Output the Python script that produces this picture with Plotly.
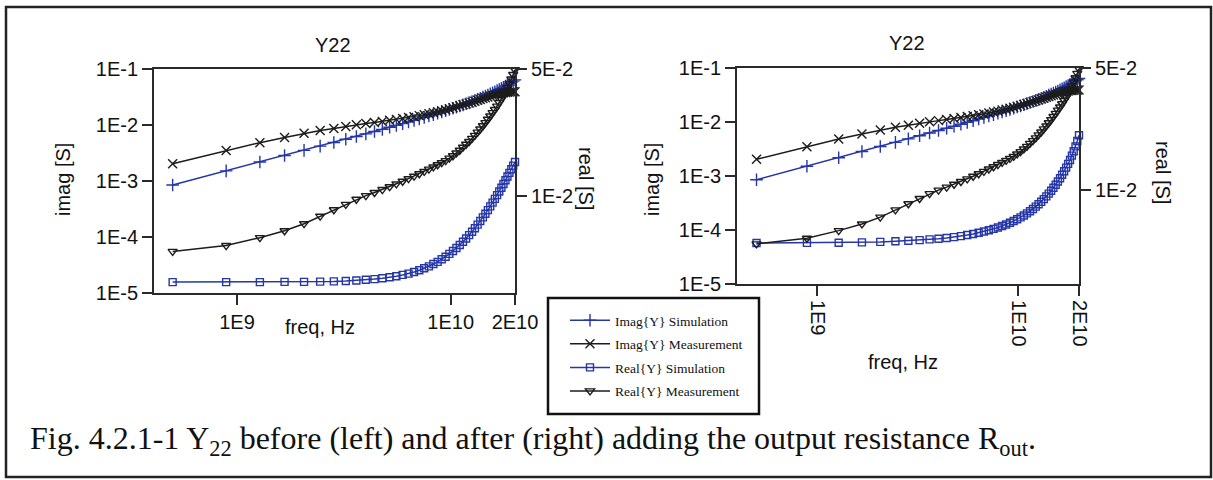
import math
import plotly.graph_objects as go

W, H = 1213, 480

# Frequency sweep, GHz
freq_ghz = [0.50, 0.89, 1.28, 1.67, 2.06, 2.45, 2.84, 3.23, 3.62, 4.01,
            4.40, 4.79, 5.18, 5.57, 5.96, 6.35, 6.74, 7.13, 7.52, 7.91,
            8.30, 8.69, 9.08, 9.47, 9.86, 10.25, 10.64, 11.03, 11.42, 11.81,
            12.20, 12.59, 12.98, 13.37, 13.76, 14.15, 14.54, 14.93, 15.32, 15.71,
            16.10, 16.49, 16.88, 17.27, 17.66, 18.05, 18.44, 18.83, 19.22, 19.61,
            20.00]

# Imag{Y22}, mS
imag_sim_ms = [0.850, 1.514, 2.180, 2.848, 3.520, 4.194, 4.874, 5.559, 6.250, 6.948,
               7.654, 8.368, 9.092, 9.827, 10.57, 11.33, 12.10, 12.89, 13.69, 14.51,
               15.35, 16.21, 17.09, 17.99, 18.92, 19.87, 20.86, 21.87, 22.92, 24.00,
               25.13, 26.29, 27.50, 28.76, 30.07, 31.44, 32.87, 34.37, 35.94, 37.59,
               39.33, 41.16, 43.10, 45.16, 47.34, 49.66, 52.14, 54.80, 57.65, 60.73,
               64.05]
imag_meas_ms = [2.04, 3.49, 4.84, 6.00, 7.10, 7.97, 8.68, 9.44, 10.1, 10.6,
                11.1, 11.6, 12.1, 12.6, 13.1, 13.6, 14.1, 14.7, 15.3, 15.9,
                16.6, 17.3, 18.0, 18.7, 19.5, 20.3, 21.1, 22.0, 22.9, 23.8,
                24.7, 25.6, 26.6, 27.6, 28.6, 29.6, 30.6, 31.6, 32.6, 33.6,
                34.6, 35.5, 36.3, 37.0, 37.6, 38.1, 38.5, 38.8, 39.0, 39.1,
                39.2]

# Real{Y22}, mS
real_meas_ms = [4.92, 5.30, 5.86, 6.40, 7.00, 7.70, 8.35, 8.95, 9.55, 10.0,
                10.4, 10.8, 11.2, 11.6, 12.0, 12.4, 12.8, 13.2, 13.6, 14.0,
                14.4, 14.8, 15.2, 15.6, 16.1, 16.6, 17.2, 17.8, 18.5, 19.2,
                19.9, 20.7, 21.5, 22.4, 23.3, 24.3, 25.3, 26.4, 27.5, 28.7,
                29.9, 31.2, 32.6, 34.0, 35.5, 37.1, 39.5, 41.6, 44.0, 46.6,
                49.5]
real_sim_before_ms = [3.33, 3.33, 3.33, 3.34, 3.34, 3.35, 3.36, 3.38, 3.40, 3.43,
                      3.46, 3.50, 3.54, 3.59, 3.65, 3.71, 3.79, 3.87, 3.97, 4.07,
                      4.19, 4.31, 4.45, 4.60, 4.77, 4.95, 5.14, 5.34, 5.56, 5.80,
                      6.05, 6.32, 6.61, 6.92, 7.24, 7.58, 7.94, 8.32, 8.72, 9.15,
                      9.59, 10.06, 10.54, 11.06, 11.59, 12.15, 12.74, 13.35, 13.98, 14.64,
                      15.33]
real_sim_after_ms = [4.98, 4.99, 5.00, 5.02, 5.05, 5.09, 5.13, 5.17, 5.22, 5.27,
                     5.32, 5.38, 5.45, 5.53, 5.61, 5.70, 5.79, 5.89, 6.00, 6.11,
                     6.23, 6.36, 6.50, 6.65, 6.81, 6.98, 7.16, 7.36, 7.57, 7.80,
                     8.04, 8.30, 8.58, 8.88, 9.20, 9.54, 9.91, 10.31, 10.74, 11.20,
                     11.70, 12.24, 12.82, 13.45, 14.13, 14.87, 15.75, 16.70, 17.80, 19.10,
                     20.60]

imag_ticks = [1e-5, 1e-4, 1e-3, 1e-2, 1e-1]
imag_ticktext = ["1E-5", "1E-4", "1E-3", "1E-2", "1E-1"]
real_ticks = [1e-2, 5e-2]
real_ticktext = ["1E-2", "5E-2"]
freq_ticks = [1e9, 1e10, 2e10]
freq_ticktext = ["1E9", "1E10", "2E10"]

series_names = ["Imag{Y} Simulation", "Imag{Y} Measurement",
                "Real{Y} Simulation", "Real{Y} Measurement"]

BLUE = "#2536a8"
BLACK = "#1c1c1c"
AXIS = "#2a2a2a"

freq_hz = [f * 1e9 for f in freq_ghz]


def siemens(ms):
    return [v * 1e-3 for v in ms]


def px_x(px):
    return px / W


def px_y(py):
    return 1 - py / H


fig = go.Figure()

styles = [
    dict(color=BLUE, symbol="cross-thin-open", size=9),
    dict(color=BLACK, symbol="x-thin-open", size=9),
    dict(color=BLUE, symbol="square-open", size=7),
    dict(color=BLACK, symbol="triangle-down-open", size=8),
]

panels = [
    ("x", "y", "y2", real_sim_before_ms, True),
    ("x2", "y3", "y4", real_sim_after_ms, False),
]

for xa, ya_imag, ya_real, real_sim, show in panels:
    data = [
        (imag_sim_ms, ya_imag),
        (imag_meas_ms, ya_imag),
        (real_sim, ya_real),
        (real_meas_ms, ya_real),
    ]
    for k, (vals, ya) in enumerate(data):
        st = styles[k]
        fig.add_trace(go.Scatter(
            x=freq_hz, y=siemens(vals), xaxis=xa, yaxis=ya,
            mode="lines+markers", name=series_names[k],
            legendgroup=series_names[k], showlegend=show,
            line=dict(color=st["color"], width=1.5),
            marker=dict(symbol=st["symbol"], size=st["size"],
                        color=st["color"],
                        line=dict(color=st["color"], width=1.4)),
            cliponaxis=False,
        ))

tickfont = dict(family="Liberation Sans, Arial", size=20, color="#111")
common_axis = dict(showgrid=False, zeroline=False, showline=True,
                   linecolor=AXIS, linewidth=1.8, ticks="outside",
                   ticklen=10, tickwidth=1.5, tickcolor=AXIS,
                   tickfont=tickfont, automargin=False)

# panel geometry (px)
L = dict(x0=154, x1=515, y0=69, y1=293)
R = dict(x0=737, x1=1079, y0=68, y1=284)

fig.update_layout(
    width=W, height=H, autosize=False,
    margin=dict(l=0, r=0, t=0, b=0, pad=0, autoexpand=False),
    paper_bgcolor="white", plot_bgcolor="white",
    showlegend=True,
    legend=dict(x=px_x(565), y=px_y(305), xanchor="left", yanchor="top",
                bgcolor="rgba(0,0,0,0)", borderwidth=0,
                font=dict(family="Liberation Serif, Times New Roman", size=13.5, color="#111"),
                tracegroupgap=3, itemwidth=40),
    xaxis=dict(domain=[px_x(L["x0"]), px_x(L["x1"])], type="log",
               range=[math.log10(4.09e8), math.log10(2e10)],
               tickvals=freq_ticks, ticktext=freq_ticktext,
               anchor="y", mirror=True, **common_axis),
    yaxis=dict(domain=[px_y(L["y1"]), px_y(L["y0"])], type="log",
               range=[-5, -1], tickvals=imag_ticks, ticktext=imag_ticktext,
               anchor="x", **common_axis),
    yaxis2=dict(overlaying="y", side="right", anchor="x", type="log",
                range=[math.log10(2.9e-3), math.log10(5e-2)],
                tickvals=real_ticks, ticktext=real_ticktext, **common_axis),
    xaxis2=dict(domain=[px_x(R["x0"]), px_x(R["x1"])], type="log",
                range=[math.log10(4.0e8), math.log10(2e10)],
                tickvals=freq_ticks, ticktext=freq_ticktext, tickangle=90,
                anchor="y3", mirror=True, **common_axis),
    yaxis3=dict(domain=[px_y(R["y1"]), px_y(R["y0"])], type="log",
                range=[-5, -1], tickvals=imag_ticks, ticktext=imag_ticktext,
                anchor="x2", **common_axis),
    yaxis4=dict(overlaying="y3", side="right", anchor="x2", type="log",
                range=[math.log10(2.9e-3), math.log10(5e-2)],
                tickvals=real_ticks, ticktext=real_ticktext, **common_axis),
)

label_font = dict(family="Liberation Sans, Arial", size=20, color="#111")


def label(text, px, py, angle=0, font=label_font, xanchor="center"):
    fig.add_annotation(text=text, x=px_x(px), y=px_y(py), xref="paper",
                       yref="paper", showarrow=False, textangle=angle,
                       xanchor=xanchor, yanchor="middle", font=font)


label("Y22", 333, 45)
label("Y22", 907, 43)
label("imag [S]", 63, 180, angle=-90)
label("imag [S]", 652, 180, angle=-90)
label("real [S]", 586, 178, angle=90)
label("real [S]", 1163, 172, angle=90)
label("freq, Hz", 320, 327)
label("freq, Hz", 903, 362)

label("Fig. 4.2.1-1 Y<sub>22</sub> before (left) and after (right) adding the output resistance R<sub>out</sub>.",
      28, 440, font=dict(family="Liberation Serif, Times New Roman", size=32, color="#111"),
      xanchor="left")

# legend frame and outer figure frame
fig.add_shape(type="rect", xref="paper", yref="paper",
              x0=px_x(548), x1=px_x(759), y0=px_y(414), y1=px_y(298),
              line=dict(color="#111", width=2.5))
fig.add_shape(type="rect", xref="paper", yref="paper",
              x0=px_x(6), x1=px_x(1211), y0=px_y(477), y1=px_y(7),
              line=dict(color="#222", width=2.5))

fig.write_html("out.html", post_script="document.body.style.margin='0';")
